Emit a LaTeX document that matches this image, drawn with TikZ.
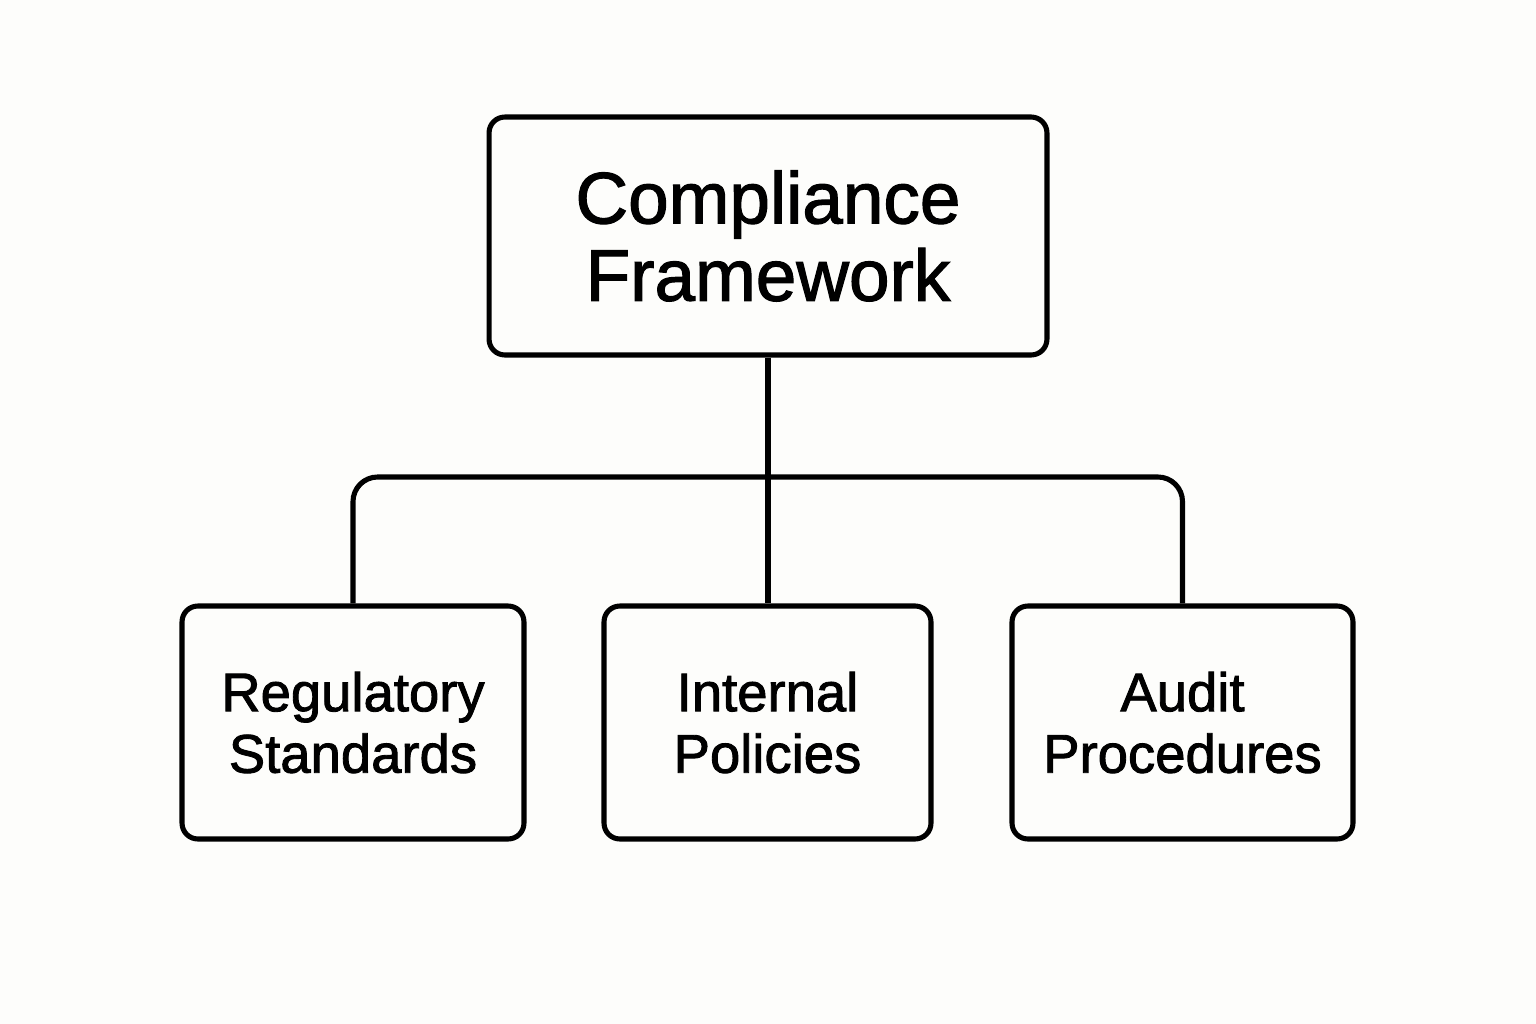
\documentclass[tikz,border=0pt]{standalone}
\usepackage{fontspec}
\setmainfont{Liberation Sans}[BoldFont={Liberation Sans}, BoldFeatures={FakeBold=1.6}]
\begin{document}
\begin{tikzpicture}[x=0.02cm,y=-0.02cm,
  line width=2.9pt,
  box/.style={draw=black, rounded corners=9pt, inner sep=0pt, align=center, font=\fontsize{31}{35}\selectfont\bfseries},
  topbox/.style={box, minimum width=11.16cm, minimum height=4.76cm, font=\fontsize{41.5}{44}\selectfont\bfseries},
  conn/.style={draw=black, line width=2.9pt}]
\fill[fill={rgb,255:red,253;green,253;blue,251}] (0,0) rectangle (1536,1024);
\useasboundingbox (0,0) rectangle (1536,1024);
\node[topbox] (top) at (768,236) {Compliance\\Framework};
\node[box, minimum width=6.84cm, minimum height=4.66cm] (left) at (353,722.5) {Regulatory\\Standards};
\node[box, minimum width=6.54cm, minimum height=4.66cm] (mid) at (767.5,722.5) {Internal\\Policies};
\node[box, minimum width=6.82cm, minimum height=4.66cm] (right) at (1182.5,722.5) {Audit\\Procedures};
\coordinate (bus) at (768,477);
\draw[conn] (top.south) -- (top.south |- mid.north);
\draw[conn, rounded corners=14pt] (left.north) |- (bus) -| (right.north);
\end{tikzpicture}
\end{document}
